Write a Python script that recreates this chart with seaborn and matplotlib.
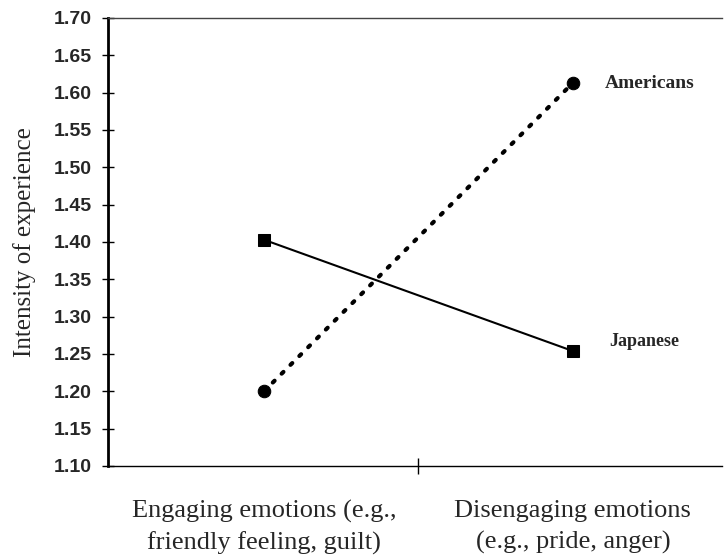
import matplotlib
matplotlib.use("Agg")
import matplotlib.pyplot as plt
import seaborn as sns
import pandas as pd

# Data
conditions = ["Engaging emotions (e.g.,\nfriendly feeling, guilt)",
              "Disengaging emotions\n(e.g., pride, anger)"]
americans = [1.20, 1.613]
japanese = [1.403, 1.254]
yticks = [1.10, 1.15, 1.20, 1.25, 1.30, 1.35, 1.40, 1.45, 1.50, 1.55, 1.60, 1.65, 1.70]


def build_frame():
    rows = []
    for i, v in enumerate(americans):
        rows.append({"pos": i, "value": v, "group": "Americans"})
    for i, v in enumerate(japanese):
        rows.append({"pos": i, "value": v, "group": "Japanese"})
    return pd.DataFrame(rows)


def draw():
    sns.set_style("white")
    df = build_frame()
    fig = plt.figure(figsize=(7.24, 5.56), dpi=100)
    ax = fig.add_axes([108 / 724, 1 - 466 / 556, 614 / 724, 448 / 556])

    sns.lineplot(data=df[df.group == "Americans"], x="pos", y="value", ax=ax,
                 color="black", linestyle=(0, (0.6, 2.4)), linewidth=3,
                 dash_capstyle="round", marker="o", markersize=9,
                 markeredgecolor="black", legend=False)
    sns.lineplot(data=df[df.group == "Japanese"], x="pos", y="value", ax=ax,
                 color="black", linewidth=1.5, marker="s", markersize=9,
                 markeredgecolor="black", legend=False)

    ax.set_xlim(-0.505, 1.483)
    ax.set_ylim(1.10, 1.70)
    ax.set_yticks(yticks)
    ax.set_yticklabels([f"{t:.2f}" for t in yticks], fontsize=14,
                       fontweight="bold", family="Liberation Sans")
    ax.set_xticks([0.5])
    ax.set_xticklabels([""])
    ax.tick_params(axis="y", direction="inout", length=9, width=1, color="black", pad=7, left=True)
    ax.tick_params(axis="x", direction="inout", length=12, width=1, color="black", bottom=True)

    for i, lab in enumerate(conditions):
        ax.text(i, 1.055, lab, ha="center", va="top", fontsize=19,
                family="Liberation Serif", transform=ax.transData,
                linespacing=1.5)

    ax.text(1.104, 1.612, "Americans", fontsize=14, fontweight="bold",
            family="Liberation Serif", va="center")
    ax.text(1.117, 1.267, "Japanese", fontsize=13, fontweight="bold",
            family="Liberation Serif", va="center")

    ax.set_xlabel("")
    ax.set_ylabel("Intensity of experience", fontsize=18, family="Liberation Serif",
                  labelpad=13)

    ax.spines["left"].set_linewidth(2)
    ax.spines["left"].set_color("black")
    ax.spines["bottom"].set_linewidth(1)
    ax.spines["bottom"].set_linestyle((0, (2, 1)))
    ax.spines["bottom"].set_color("black")
    ax.spines["top"].set_linewidth(1)
    ax.spines["top"].set_linestyle((0, (2, 1)))
    ax.spines["top"].set_color("#444444")
    ax.spines["right"].set_visible(False)

    fig.savefig("out.png", dpi=100)


if __name__ == "__main__":
    draw()
